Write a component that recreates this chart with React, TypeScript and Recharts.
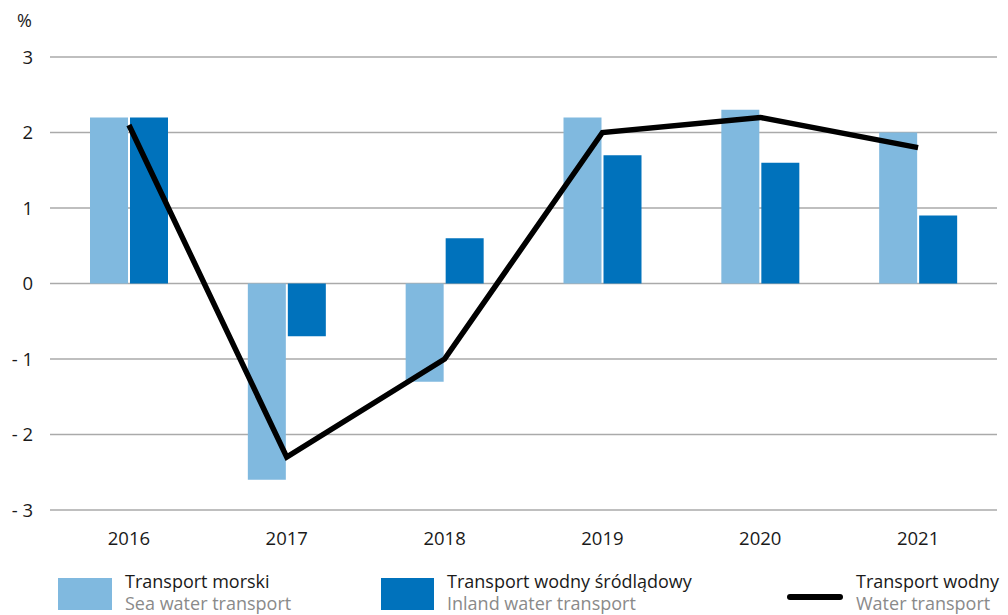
import { ComposedChart, Bar, Line, XAxis, YAxis, CartesianGrid } from "recharts"

const years = ["2016", "2017", "2018", "2019", "2020", "2021"]
const seaTransport = [2.2, -2.6, -1.3, 2.2, 2.3, 2.0]
const inlandTransport = [2.2, -0.7, 0.6, 1.7, 1.6, 0.9]
const waterTransport = [2.1, -2.3, -1.0, 2.0, 2.2, 1.8]
const yTicks = [-3, -2, -1, 0, 1, 2, 3]

const LIGHT = "#80b9df"
const DARK = "#0072bc"
const FONT = "'Open Sans', sans-serif"

const data = years.map((year, i) => ({
  year,
  sea: seaTransport[i],
  inland: inlandTransport[i],
  water: waterTransport[i],
}))

const fmt = (v: number) => (v < 0 ? `- ${Math.abs(v)}` : `${v}`)

function LegendItem({ left, swatch, pl, en }: { left: number; swatch: React.ReactNode; pl: string; en: string }) {
  return (
    <div style={{ position: "absolute", left, top: 570, display: "flex", alignItems: "flex-start" }}>
      {swatch}
      <div style={{ marginLeft: 13, lineHeight: "22px", fontSize: 18 }}>
        <div style={{ color: "#1a1a1a" }}>{pl}</div>
        <div style={{ color: "#8a8a8a" }}>{en}</div>
      </div>
    </div>
  )
}

export default function App() {
  return (
    <div style={{ position: "absolute", left: 0, top: 0, width: 1008, height: 615, overflow: "hidden", fontFamily: FONT, background: "#fff" }}>
      <div style={{ position: "absolute", left: 17, top: 8, fontSize: 18, color: "#1a1a1a" }}>%</div>
      <ComposedChart
        width={1008}
        height={560}
        data={data}
        margin={{ top: 57, right: 11, left: 0, bottom: 10 }}
        barSize={38}
        barGap={2}
      >
        <CartesianGrid vertical={false} stroke="#aaaaaa" strokeWidth={1.5} />
        <XAxis
          dataKey="year"
          axisLine={false}
          tickLine={false}
          height={40}
          tickMargin={16}
          tick={{ fontSize: 18.5, fill: "#1a1a1a", fontFamily: FONT }}
        />
        <YAxis
          domain={[-3, 3]}
          ticks={yTicks}
          tickFormatter={fmt}
          axisLine={false}
          tickLine={false}
          tickSize={0}
          tickMargin={17}
          width={50}
          tick={{ fontSize: 18.5, fill: "#1a1a1a", fontFamily: FONT }}
        />
        <Bar dataKey="sea" fill={LIGHT} isAnimationActive={false} />
        <Bar dataKey="inland" fill={DARK} isAnimationActive={false} />
        <Line
          dataKey="water"
          stroke="#000"
          strokeWidth={5.5}
          dot={false}
          activeDot={false}
          strokeLinejoin="miter"
          isAnimationActive={false}
        />
      </ComposedChart>
      <LegendItem
        left={58}
        swatch={<div style={{ width: 54, height: 32, marginTop: 8, background: LIGHT }} />}
        pl="Transport morski"
        en="Sea water transport"
      />
      <LegendItem
        left={381}
        swatch={<div style={{ width: 53, height: 32, marginTop: 8, background: DARK }} />}
        pl="Transport wodny śródlądowy"
        en="Inland water transport"
      />
      <LegendItem
        left={787}
        swatch={<div style={{ width: 56, height: 6, marginTop: 24, background: "#000", borderRadius: 3 }} />}
        pl="Transport wodny"
        en="Water transport"
      />
    </div>
  )
}
